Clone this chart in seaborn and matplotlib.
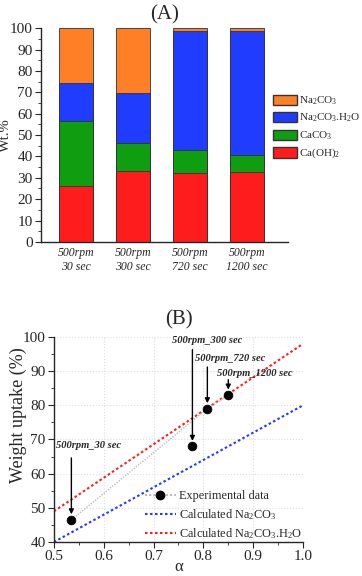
import numpy as np
import pandas as pd
import matplotlib
matplotlib.use("Agg")
import matplotlib.pyplot as plt
from matplotlib.patches import Patch
from matplotlib.lines import Line2D
import seaborn as sns

# panel A data (wt.%)
samples = ['500rpm\n30 sec', '500rpm\n300 sec', '500rpm\n720 sec', '500rpm\n1200 sec']
caoh2 = [26.0, 33.2, 32.4, 32.7]
caco3 = [30.5, 13.0, 10.6, 7.9]
na2co3_h2o = [18.0, 23.5, 55.7, 57.9]
na2co3 = [25.5, 30.3, 1.3, 1.5]

# panel B data
alpha_exp = [0.535, 0.778, 0.808, 0.850]
uptake_exp = [46.5, 68.0, 79.0, 83.0]
exp_labels = ['500rpm_30 sec', '500rpm_300 sec', '500rpm_720 sec', '500rpm_1200 sec']
trend_idx = [0, 2, 3]   # gray guide line skips the 300 sec point
alpha_calc = [0.5, 1.0]
calc_na2co3 = [40.0, 80.0]
calc_na2co3_h2o = [49.0, 98.0]

sns.set_style("ticks")
plt.rcParams['font.family'] = ['Liberation Serif', 'DejaVu Serif']
plt.rcParams['mathtext.default'] = 'regular'
plt.rcParams['axes.linewidth'] = 1.0

c_orange = '#ff7f27'
c_blue = '#1f3cff'
c_green = '#0f9e0f'
c_red = '#ff1c1c'

fig = plt.figure(figsize=(3.62, 5.76), dpi=100)

# ---------- (A) stacked bars ----------
axA = fig.add_axes([0.113, 0.580, 0.683, 0.371])
df = pd.DataFrame({'sample': samples, 'caoh2': caoh2, 'caco3': caco3,
                   'h2o': na2co3_h2o, 'na2co3': na2co3})
df['s1'] = df['caoh2']
df['s2'] = df['s1'] + df['caco3']
df['s3'] = df['s2'] + df['h2o']
df['s4'] = df['s3'] + df['na2co3']

for col, c in [('s4', c_orange), ('s3', c_blue), ('s2', c_green), ('s1', c_red)]:
    sns.barplot(data=df, x='sample', y=col, color=c, width=0.6, saturation=1,
                edgecolor='#333333', linewidth=0.6, ax=axA)

axA.set_ylim(0, 100)
axA.set_xlim(-0.62, 3.72)
axA.set_yticks(np.arange(0, 101, 10))
axA.set_yticks(np.arange(0, 101, 5), minor=True)
axA.tick_params(axis='y', labelsize=11, length=4, width=0.8, pad=2)
axA.tick_params(axis='y', which='minor', length=2, width=0.6)
axA.tick_params(axis='x', length=0, labelsize=8.5, pad=4)
for t in axA.get_xticklabels():
    t.set_fontstyle('italic')
axA.set_xlabel('')
axA.set_ylabel('Wt.%', fontsize=10.5)
axA.yaxis.set_label_coords(-0.118, 0.5)
axA.set_title('(A)', fontsize=15, pad=6)
sns.despine(ax=axA)

handlesA = [Patch(facecolor=c_orange, edgecolor='#333333', label='Na$_2$CO$_3$'),
            Patch(facecolor=c_blue, edgecolor='#333333', label='Na$_2$CO$_3$.H$_2$O'),
            Patch(facecolor=c_green, edgecolor='#333333', label='CaCO$_3$'),
            Patch(facecolor=c_red, edgecolor='#333333', label='Ca(OH)$_2$')]
axA.legend(handles=handlesA, loc='upper left', bbox_to_anchor=(0.94, 0.69),
           frameon=False, fontsize=8.0, handlelength=2.1, handleheight=1.05,
           handletextpad=0.25, labelspacing=0.45, borderaxespad=0, borderpad=0)

# ---------- (B) weight uptake ----------
axB = fig.add_axes([0.149, 0.059, 0.688, 0.356])
axB.grid(True, color='#dddddd', linestyle=':', linewidth=0.8)
axB.set_axisbelow(True)

sns.lineplot(x=alpha_calc, y=calc_na2co3, color=c_blue, linestyle=(0, (1.2, 1.2)),
             linewidth=1.5, ax=axB)
sns.lineplot(x=alpha_calc, y=calc_na2co3_h2o, color=c_red, linestyle=(0, (1.2, 1.2)),
             linewidth=1.5, ax=axB)
sns.lineplot(x=[alpha_exp[i] for i in trend_idx], y=[uptake_exp[i] for i in trend_idx],
             color='#bbbbbb', linestyle=(0, (1, 1)), linewidth=1.0, ax=axB, sort=False)
sns.scatterplot(x=alpha_exp, y=uptake_exp, color='black', s=40, edgecolor='black',
                zorder=5, ax=axB)

# annotation text positions and arrow starts
text_pos = [(0.505, 68.3), (0.737, 98.9), (0.784, 93.6), (0.827, 89.2)]
arrow_top = [64.6, 96.3, 91.2, 87.5]
for lab, (tx, ty), a, y, top in zip(exp_labels, text_pos, alpha_exp, uptake_exp, arrow_top):
    axB.text(tx, ty, lab, fontsize=7.6, fontweight='bold', fontstyle='italic',
             va='center', ha='left')
    axB.annotate('', xy=(a, y + 1.6), xytext=(a, top),
                 arrowprops=dict(arrowstyle='-|>', color='black', lw=1.0,
                                 mutation_scale=7, shrinkA=0, shrinkB=0))

axB.set_xlim(0.5, 1.0)
axB.set_ylim(40, 100)
axB.set_xticks(np.arange(0.5, 1.01, 0.1))
axB.set_xticklabels(['0.5', '0.6', '0.7', '0.8', '0.9', '1.0'])
axB.set_xticks(np.arange(0.5, 1.01, 0.05), minor=True)
axB.set_yticks(np.arange(40, 101, 10))
axB.set_yticks(np.arange(40, 101, 5), minor=True)
axB.tick_params(labelsize=11, length=4, width=0.8, pad=2)
axB.tick_params(which='minor', length=2, width=0.6)
axB.grid(False, which='minor')
axB.set_xlabel('α', fontsize=12, labelpad=-3)
axB.set_ylabel('Weight uptake (%)', fontsize=13)
axB.yaxis.set_label_coords(-0.108, 0.62)
axB.set_title('(B)', fontsize=15, pad=9)
sns.despine(ax=axB)

handlesB = [Line2D([0], [0], color='#bbbbbb', linestyle=(0, (1, 1)), marker='o',
                   markersize=6, markerfacecolor='black', markeredgecolor='black',
                   label='Experimental data'),
            Line2D([0], [0], color=c_blue, linestyle=(0, (1.2, 1.2)), lw=1.5,
                   label='Calculated Na$_2$CO$_3$'),
            Line2D([0], [0], color=c_red, linestyle=(0, (1.2, 1.2)), lw=1.5,
                   label='Calculated Na$_2$CO$_3$.H$_2$O')]
axB.legend(handles=handlesB, loc='lower right', bbox_to_anchor=(1.0, 0.0),
           frameon=False, fontsize=8.8, handlelength=2.5, handletextpad=0.3,
           labelspacing=0.4, borderaxespad=0.05, borderpad=0)

fig.savefig('out.png', dpi=100)
